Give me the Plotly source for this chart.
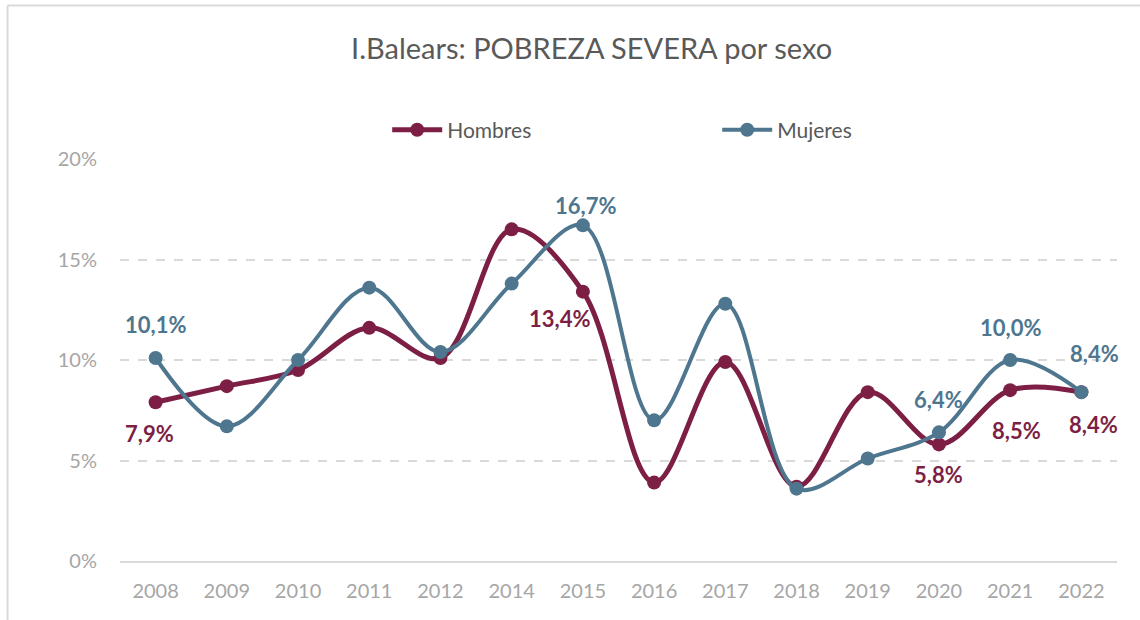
import plotly.graph_objects as go

years = ["2008", "2009", "2010", "2011", "2012", "2014", "2015", "2016",
         "2017", "2018", "2019", "2020", "2021", "2022"]
hombres = [7.9, 8.7, 9.5, 11.6, 10.1, 16.5, 13.4, 3.9, 9.9, 3.7, 8.4, 5.8, 8.5, 8.4]
mujeres = [10.1, 6.7, 10.0, 13.6, 10.4, 13.8, 16.7, 7.0, 12.8, 3.6, 5.1, 6.4, 10.0, 8.4]

# labelled points: (year, dx, dy)
labels_h = [("2008", -6, 31), ("2015", -23, 27), ("2020", 0, 30), ("2021", 6, 40), ("2022", 12, 32)]
labels_m = [("2008", 0, -33), ("2015", 3, -20), ("2020", 0, -33), ("2021", 0, -33), ("2022", 13, -39)]

C_H = "#7D1F44"
C_M = "#4E768F"
FONT = "Lato"

fig = go.Figure()
fig.add_trace(go.Scatter(
    x=years, y=hombres, name="Hombres", mode="lines+markers",
    line=dict(color=C_H, width=5, shape="spline", smoothing=1.0),
    marker=dict(size=14, color=C_H),
))
fig.add_trace(go.Scatter(
    x=years, y=mujeres, name="Mujeres", mode="lines+markers",
    line=dict(color=C_M, width=4, shape="spline", smoothing=1.0),
    marker=dict(size=14, color=C_M),
))

def fmt(v):
    return f"{v:.1f}".replace(".", ",") + "%"

for labs, vals, col in [(labels_h, hombres, C_H), (labels_m, mujeres, C_M)]:
    for yr, dx, dy in labs:
        i = years.index(yr)
        v = vals[i]
        fig.add_annotation(x=i, y=v, text=f"<b>{fmt(v)}</b>", showarrow=False,
                           xshift=dx, yshift=-dy,
                           font=dict(family=FONT, size=22, color=col))

grey_line = "#D9D9D9"
fig.add_shape(type="line", xref="paper", yref="paper", x0=-0.1128, x1=1.03,
              y0=1.3818, y1=1.3818, line=dict(color=grey_line, width=2))
fig.add_shape(type="line", xref="paper", yref="paper", x0=-0.1128, x1=-0.1128,
              y0=1.3818, y1=-0.2, line=dict(color=grey_line, width=2))

fig.update_layout(
    width=1140, height=620,
    margin=dict(l=120, r=23, t=159, b=59),
    paper_bgcolor="white", plot_bgcolor="white",
    font=dict(family=FONT, color="#595959"),
    title=dict(text="I.Balears: POBREZA SEVERA por sexo", x=0.473, xref="paper",
               xanchor="center", y=0.922, yanchor="middle",
               font=dict(family=FONT, size=29, color="#595959")),
    legend=dict(orientation="h", x=0.268, xanchor="left", y=1.072, yanchor="middle",
                font=dict(family=FONT, size=21, color="#595959"),
                itemwidth=50, entrywidth=265, traceorder="normal"),
    showlegend=True,
)
fig.update_xaxes(type="category", range=[-0.5, len(years) - 0.5], autorange=False,
                 showgrid=False, showline=True, linecolor=grey_line,
                 linewidth=2, ticks="", ticklabelstandoff=11,
                 tickfont=dict(family=FONT, size=20, color="#A6A6A6"))
fig.update_yaxes(range=[0, 20], tickvals=[0, 5, 10, 15, 20],
                 ticktext=["0%", "5%", "10%", "15%", "20%"],
                 showgrid=True, gridcolor=grey_line, griddash="dash", gridwidth=1.5,
                 zeroline=False, showline=False, ticks="", ticklabelstandoff=22,
                 tickfont=dict(family=FONT, size=20, color="#A6A6A6"))

fig.write_html("out.html", config={"displayModeBar": False},
               post_script="document.body.style.margin='0';")
